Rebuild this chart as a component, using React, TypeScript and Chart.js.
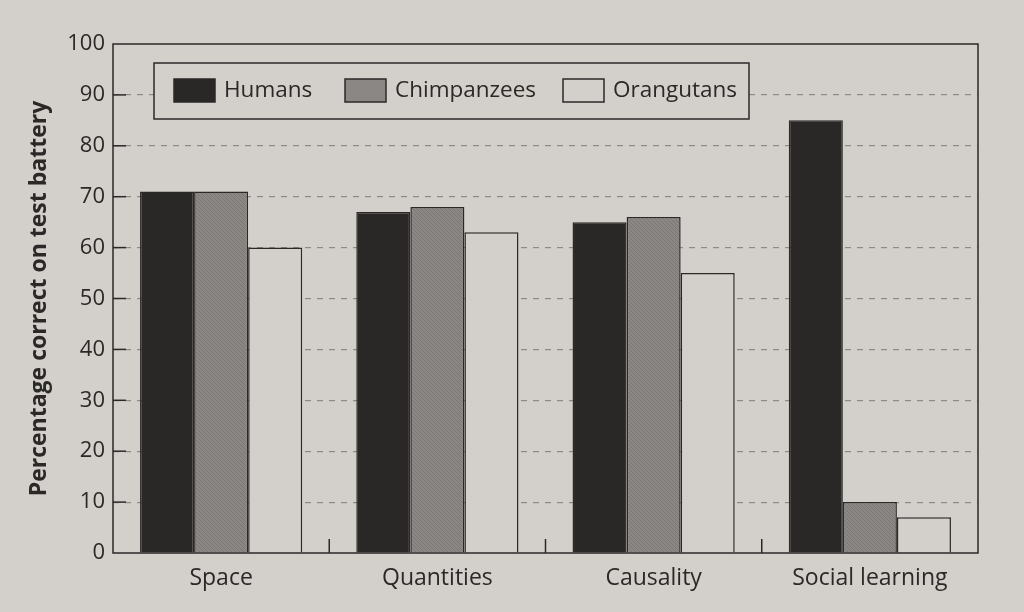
import React, { useEffect, useRef } from "react";
import { Chart, registerables } from "chart.js";

Chart.register(...registerables);

const categories = ["Space", "Quantities", "Causality", "Social learning"];
const humans = [71, 67, 65, 85];
const chimpanzees = [71, 68, 66, 10];
const orangutans = [60, 63, 55, 7];
const yTicks = [0, 10, 20, 30, 40, 50, 60, 70, 80, 90, 100];

const BG = "#d3cfca";
const INK = "#2b2928";

function makeHatch(): CanvasPattern | string {
  const c = document.createElement("canvas");
  c.width = 4;
  c.height = 4;
  const g = c.getContext("2d");
  if (!g) return "#85827f";
  g.fillStyle = "#8a8784";
  g.fillRect(0, 0, 4, 4);
  g.fillStyle = "#7a7774";
  g.fillRect(0, 0, 1, 1);
  g.fillRect(1, 1, 1, 1);
  g.fillRect(2, 2, 1, 1);
  g.fillRect(3, 3, 1, 1);
  const p = g.createPattern(c, "repeat");
  return p || "#85827f";
}

const framePlugin = {
  id: "frame",
  beforeDraw(chart: any) {
    const { ctx, width, height } = chart;
    ctx.save();
    ctx.fillStyle = BG;
    ctx.fillRect(0, 0, width, height);
    ctx.restore();
  },
  afterDatasetsDraw(chart: any) {
    const { ctx, chartArea, scales } = chart;
    const { left, right, top, bottom } = chartArea;
    ctx.save();
    ctx.strokeStyle = INK;
    ctx.lineWidth = 1.5;
    scales.y.ticks.forEach((t: any) => {
      if (t.value === 0 || t.value === 100) return;
      const y = scales.y.getPixelForValue(t.value);
      ctx.beginPath();
      ctx.moveTo(left, y);
      ctx.lineTo(left + 13, y);
      ctx.stroke();
    });
    const n = categories.length;
    for (let i = 1; i < n; i++) {
      const x = left + ((right - left) * i) / n;
      ctx.beginPath();
      ctx.moveTo(x, bottom);
      ctx.lineTo(x, bottom - 14);
      ctx.stroke();
    }
    ctx.strokeRect(left, top, right - left, bottom - top);
    ctx.restore();
  },
};

const legendPlugin = {
  id: "boxLegend",
  afterDatasetsDraw(chart: any) {
    const { ctx } = chart;
    const bx = 154, by = 63, bw = 595, bh = 56;
    ctx.save();
    ctx.fillStyle = BG;
    ctx.fillRect(bx, by, bw, bh);
    ctx.strokeStyle = INK;
    ctx.lineWidth = 1.5;
    ctx.strokeRect(bx, by, bw, bh);
    const swX = [174, 345, 563];
    ctx.font = "22.5px 'Open Sans', sans-serif";
    ctx.textBaseline = "middle";
    ctx.textAlign = "left";
    chart.data.datasets.forEach((ds: any, i: number) => {
      const x = swX[i];
      ctx.fillStyle = i === 1 ? "#8a8784" : ds.backgroundColor;
      ctx.fillRect(x, 79, 41, 23);
      ctx.lineWidth = 1.5;
      ctx.strokeStyle = INK;
      ctx.strokeRect(x, 79, 41, 23);
      ctx.fillStyle = INK;
      ctx.fillText(ds.label, x + 50, 91);
    });
    ctx.restore();
  },
};

export default function App() {
  const ref = useRef<HTMLCanvasElement>(null);
  useEffect(() => {
    document.body.style.margin = "0";
    document.body.style.background = BG;
    if (!ref.current) return;
    const hatch = makeHatch();
    const common = {
      borderColor: INK,
      borderWidth: 1.5,
      borderSkipped: "bottom" as const,
      categoryPercentage: 0.75,
      barPercentage: 1,
    };
    const chart = new Chart(ref.current, {
      type: "bar",
      data: {
        labels: categories,
        datasets: [
          { label: "Humans", data: humans, backgroundColor: "#2a2827", ...common },
          { label: "Chimpanzees", data: chimpanzees, backgroundColor: hatch as any, ...common },
          { label: "Orangutans", data: orangutans, backgroundColor: BG, ...common },
        ],
      },
      options: {
        animation: false,
        responsive: false,
        layout: { padding: { left: 0, right: 46, top: 44, bottom: 0 } },
        plugins: { legend: { display: false }, tooltip: { enabled: false } },
        scales: {
          x: {
            grid: { display: false, drawTicks: false },
            border: { display: false },
            ticks: {
              color: INK,
              font: { family: "'Open Sans', sans-serif", size: 23 },
              padding: 12,
            },
            afterFit: (s: any) => {
              s.height = 59;
            },
          },
          y: {
            min: 0,
            max: 100,
            afterBuildTicks: (s: any) => {
              s.ticks = yTicks.map((v) => ({ value: v }));
            },
            grid: {
              drawTicks: false,
              color: (c: any) =>
                c.tick && (c.tick.value === 0 || c.tick.value === 100) ? "rgba(0,0,0,0)" : "#8e8b87",
              lineWidth: 1.2,
            },
            border: { display: false, dash: [6, 6] },
            ticks: {
              color: INK,
              font: { family: "'Open Sans', sans-serif", size: 22 },
              padding: 8,
            },
            title: {
              display: true,
              text: "Percentage correct on test battery",
              color: INK,
              font: { family: "'Open Sans', sans-serif", size: 23, weight: "bold" },
              padding: { top: 26, bottom: 0 },
            },
            afterFit: (s: any) => {
              s.width = 113;
            },
          },
        },
      } as any,
      plugins: [framePlugin, legendPlugin],
    });
    return () => chart.destroy();
  }, []);
  return <canvas ref={ref} width={1024} height={612} style={{ display: "block" }} />;
}
